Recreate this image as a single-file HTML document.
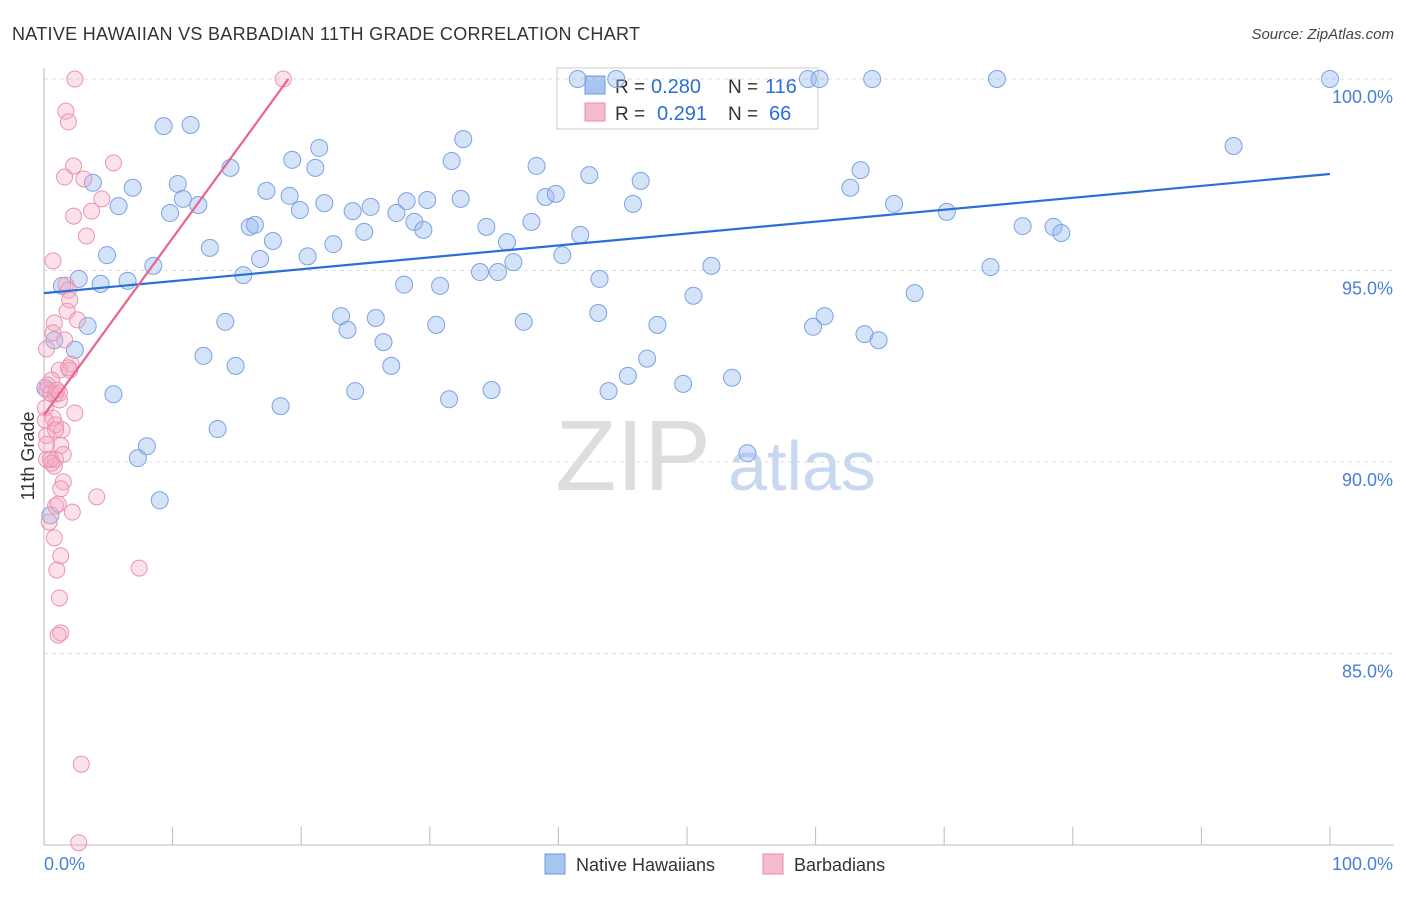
<!DOCTYPE html>
<html><head><meta charset="utf-8"><style>
body{margin:0;background:#fff;font-family:"Liberation Sans",sans-serif;}
svg text{font-family:"Liberation Sans",sans-serif;}
</style></head><body>
<svg id="chart" width="1406" height="892" xmlns="http://www.w3.org/2000/svg">
<text x="12" y="40" font-size="18" fill="#333" textLength="628">NATIVE HAWAIIAN VS BARBADIAN 11TH GRADE CORRELATION CHART</text>
<text x="1394" y="39" font-size="15" fill="#444" text-anchor="end" font-style="italic">Source: ZipAtlas.com</text>
<text x="34" y="456" font-size="18" fill="#333" text-anchor="middle" transform="rotate(-90 34 456)">11th Grade</text>
<g><text x="633" y="490" font-size="100" fill="#ddd" text-anchor="middle" font-family="Liberation Serif,serif">ZIP</text><text x="802" y="490" font-size="70" fill="#c8d8f0" text-anchor="middle">atlas</text></g>
<g>
<rect x="557" y="68" width="261" height="61" fill="#fff" stroke="#ccc"/>
<rect x="585" y="76" width="20" height="18" fill="#a8c4f0" stroke="#6d9ae0"/>
<text x="615" y="93" font-size="19" fill="#333">R =</text>
<text x="651" y="93" font-size="20" fill="#2b6fd6">0.280</text>
<text x="728" y="93" font-size="19" fill="#333">N =</text>
<text x="765" y="93" font-size="20" fill="#2b6fd6">116</text>
<rect x="585" y="103" width="20" height="18" fill="#f6bccd" stroke="#e88aa6"/>
<text x="615" y="120" font-size="19" fill="#333">R =</text>
<text x="657" y="120" font-size="20" fill="#2b6fd6">0.291</text>
<text x="728" y="120" font-size="19" fill="#333">N =</text>
<text x="769" y="120" font-size="20" fill="#2b6fd6">66</text>
</g>
<g id="grid"></g><g id="axes"></g><g id="pts"></g><g id="lines"></g>
<g>
<rect x="545" y="854" width="20" height="20" fill="#a8c4f0" stroke="#6d9ae0"/>
<text x="576" y="871" font-size="18" fill="#333">Native Hawaiians</text>
<rect x="763" y="854" width="20" height="20" fill="#f6bccd" stroke="#e88aa6"/>
<text x="794" y="871" font-size="18" fill="#333">Barbadians</text>
</g>
</svg>
<script>
const blueX=[41.5,44.5,59.4,60.3,64.4,74.1,100,9.3,11.4,32.6,92.5,21.4,19.3,31.7,38.3,63.5,21.1,14.5,42.4,3.8,6.9,10.4,46.4,62.7,17.3,19.1,10.8,12,5.8,9.8,19.9,21.8,24,25.4,28.2,29.8,32.4,39,39.8,45.8,66.1,70.2,27.4,28.8,29.5,16,16.4,34.4,37.9,24.9,41.7,76.1,78.5,79.1,17.8,22.5,36,12.9,4.9,20.5,16.8,40.3,36.5,8.5,51.9,73.6,15.5,33.9,35.3,2.7,6.5,4.4,1.4,43.2,28,30.8,50.5,67.7,3.4,14.1,23.1,23.6,25.8,30.5,37.3,43.1,47.7,59.8,60.7,63.8,64.9,0.8,2.4,12.4,26.4,27,45.4,46.9,14.9,24.2,34.8,43.9,49.7,53.5,5.4,31.5,18.4,13.5,7.3,54.7,8,9,0.5,0.1];
const blueY=[100,100,100,100,100,100,100,98.77,98.8,98.43,98.25,98.2,97.89,97.86,97.73,97.62,97.68,97.68,97.49,97.29,97.16,97.26,97.34,97.16,97.08,96.95,96.87,96.71,96.68,96.5,96.58,96.76,96.55,96.66,96.81,96.84,96.87,96.92,97,96.74,96.74,96.53,96.5,96.27,96.06,96.14,96.19,96.14,96.27,96.01,95.93,96.16,96.14,95.98,95.77,95.69,95.74,95.59,95.4,95.37,95.3,95.4,95.22,95.12,95.12,95.09,94.88,94.96,94.96,94.78,94.73,94.65,94.6,94.78,94.63,94.6,94.34,94.41,93.55,93.66,93.81,93.45,93.76,93.58,93.66,93.89,93.58,93.53,93.81,93.34,93.18,93.18,92.93,92.77,93.13,92.51,92.25,92.7,92.51,91.85,91.88,91.85,92.04,92.2,91.77,91.64,91.46,90.86,90.1,90.23,90.41,89,88.61,91.93,91.59];
const pinkX=[2.4,18.6,1.7,1.9,2.3,5.4,3.1,1.6,4.5,3.7,2.3,3.3,0.7,1.7,1.9,2,1.8,0.8,2.6,0.7,1.6,0.2,2.1,1.2,2,0.6,0.2,0.9,1.2,0.1,2.4,0.7,0.9,1.4,0.2,1.3,0.2,0.9,0.8,1.5,1.3,4.1,0.9,2.2,0.4,0.8,1.3,1,7.4,1.2,1.3,1.1,2.9,2.7,0.3,0.5,1,0.1,0.6,1.1,0.5,1.5,1.9,1.2,0.2,0.9];
const pinkY=[100,100,99.16,98.88,97.73,97.81,97.39,97.44,96.87,96.55,96.42,95.9,95.25,94.62,94.49,94.23,93.94,93.63,93.71,93.37,93.19,92.95,92.56,92.4,92.4,92.14,91.88,91.77,91.62,91.41,91.28,91.15,90.97,90.84,90.69,90.43,90.07,90.07,89.89,89.48,89.3,89.09,88.85,88.69,88.43,88.02,87.55,87.18,87.23,86.45,85.54,85.48,82.11,80.06,92.01,91.8,91.88,91.09,89.97,88.9,90.07,90.2,92.46,91.8,90.46,90.84];
const yTicks=[100,95,90,85];
const yTickLabels=["100.0%","95.0%","90.0%","85.0%"];
const blueLine=[[0,94.41],[100,97.52]];
const pinkLine=[[0,91.23],[19,100]];
const NS="http://www.w3.org/2000/svg";
const xs=v=>44+v*12.86, ys=v=>79+(100-v)*38.3;
function mk(t,a,p){const e=document.createElementNS(NS,t);for(const k in a)e.setAttribute(k,a[k]);p.appendChild(e);return e;}
const grid=document.getElementById('grid'),axes=document.getElementById('axes'),pts=document.getElementById('pts'),lines=document.getElementById('lines');
yTicks.forEach((t,i)=>{
 const l=mk('line',{x1:44,x2:1394,y1:ys(t),y2:ys(t),stroke:'#ddd','stroke-dasharray':'4,4'},grid);
 
 
 const tx=mk('text',{x:1393,y:ys(t)+24,'font-size':18,fill:'#4a7fd6','text-anchor':'end'},axes);tx.textContent=yTickLabels[i];
 
 
});
mk('line',{x1:44,x2:44,y1:68,y2:845,stroke:'#bbb'},axes);
mk('line',{x1:44,x2:1394,y1:845,y2:845,stroke:'#bbb'},axes);
for(let i=0;i<=10;i++){const t=mk('line',{x1:xs(i*10),x2:xs(i*10),y1:827,y2:845,stroke:'#bbb'},axes);
 
 }
const x0=mk('text',{x:44,y:870,'font-size':18,fill:'#4a7fd6'},axes);x0.textContent='0.0%';


const x1=mk('text',{x:1393,y:870,'font-size':18,fill:'#4a7fd6','text-anchor':'end'},axes);x1.textContent='100.0%';


blueX.forEach((v,i)=>{const c=mk('circle',{cx:xs(v),cy:ys(blueY[i]),r:8.5,fill:'rgba(150,185,240,0.4)',stroke:'#7aa3e3','stroke-width':1},pts);
 
 });
pinkX.forEach((v,i)=>{const c=mk('circle',{cx:xs(v),cy:ys(pinkY[i]),r:8,fill:'rgba(244,170,195,0.35)',stroke:'#ec93b0','stroke-width':1},pts);
 
 });
const bl=mk('line',{x1:xs(blueLine[0][0]),y1:ys(blueLine[0][1]),x2:xs(blueLine[1][0]),y2:ys(blueLine[1][1]),stroke:'#2b6fd6','stroke-width':2.2},lines);


const pl=mk('line',{x1:xs(pinkLine[0][0]),y1:ys(pinkLine[0][1]),x2:xs(pinkLine[1][0]),y2:ys(pinkLine[1][1]),stroke:'#e8638f','stroke-width':2.2},lines);


</script>
</body></html>
